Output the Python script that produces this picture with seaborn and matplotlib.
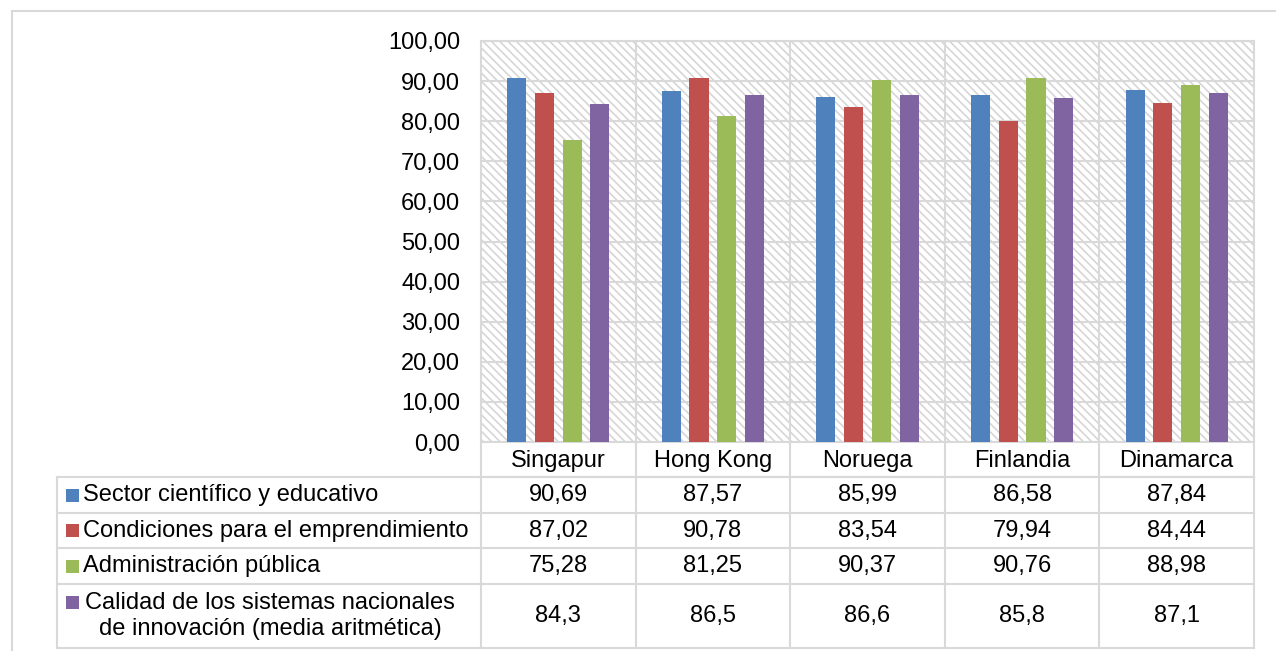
import matplotlib
matplotlib.use("Agg")
import matplotlib.pyplot as plt
import matplotlib.transforms as mtransforms
from matplotlib.lines import Line2D
from matplotlib.patches import Rectangle
import pandas as pd
import seaborn as sns

# ---- data -------------------------------------------------------------
paises = ["Singapur", "Hong Kong", "Noruega", "Finlandia", "Dinamarca"]
series = [
    "Sector científico y educativo",
    "Condiciones para el emprendimiento",
    "Administración pública",
    "Calidad de los sistemas nacionales\nde innovación (media aritmética)",
]
sector_cientifico = [90.69, 87.57, 85.99, 86.58, 87.84]
emprendimiento = [87.02, 90.78, 83.54, 79.94, 84.44]
administracion = [75.28, 81.25, 90.37, 90.76, 88.98]
calidad_media = [84.3, 86.5, 86.6, 85.8, 87.1]
decimales = [2, 2, 2, 1]
colores = ["#4F81BD", "#C0504D", "#9BBB59", "#8064A2"]
y_ticks = list(range(0, 101, 10))

valores = [sector_cientifico, emprendimiento, administracion, calidad_media]
df = pd.DataFrame(
    [(p, s, v[i]) for s, v in zip(series, valores) for i, p in enumerate(paises)],
    columns=["pais", "serie", "valor"],
)

# ---- style ------------------------------------------------------------
sns.set_style("white")
plt.rcParams["font.family"] = ["Liberation Sans", "DejaVu Sans"]
plt.rcParams["text.color"] = "black"
plt.rcParams["hatch.color"] = "#D6D6D6"
plt.rcParams["hatch.linewidth"] = 1.2
GRIS = "#D9D9D9"
FS = 17

W, H = 1276, 651
fig = plt.figure(figsize=(W / 100, H / 100), dpi=100)


def fx(x):
    return x / W


def fy(y):
    return 1 - y / H


ax = fig.add_axes([fx(481), fy(442), (1254 - 481) / W, (442 - 41) / H])

# hatched plot area
ax.patch.set_facecolor("white")
ax.patch.set_hatch("\\\\\\\\")
ax.patch.set_edgecolor("#D6D6D6")
ax.patch.set_linewidth(0)

sns.barplot(
    data=df, x="pais", y="valor", hue="serie", order=paises, hue_order=series,
    palette=colores, saturation=1, width=0.717, gap=0.31, errorbar=None,
    linewidth=0, legend=False, ax=ax, zorder=3,
)

ax.set_xlim(-0.5, len(paises) - 0.5)
ax.set_ylim(0, 100)
ax.set_yticks(y_ticks)
ax.set_yticklabels([f"{t:.2f}".replace(".", ",") for t in y_ticks], fontsize=FS)
ax.tick_params(axis="y", length=0, pad=15, colors="black")
ax.set_xticks([])
ax.set_xlabel("")
ax.set_ylabel("")
ax.set_axisbelow(True)
ax.yaxis.grid(True, color=GRIS, linewidth=1.5, zorder=1)
for k in range(1, len(paises)):
    ax.axvline(k - 0.5, color=GRIS, linewidth=1.5, zorder=1)
for sp in ax.spines.values():
    sp.set_color(GRIS)
    sp.set_linewidth(1.5)

# ---- data table under the axes ---------------------------------------
fig.canvas.draw()
mix = mtransforms.blended_transform_factory(ax.transData, fig.transFigure)
bordes_x = [ax.transData.transform((k - 0.5, 0))[0] for k in range(len(paises) + 1)]

y_header = (442, 477.3)
filas = [(477.3, 512.7), (512.7, 548.3), (548.3, 584), (584, 648.3)]
x_izq = 57.3

def linea(x0, y0, x1, y1):
    fig.add_artist(Line2D([fx(x0), fx(x1)], [fy(y0), fy(y1)], color=GRIS,
                          linewidth=1.5, solid_capstyle="projecting"))

# outer chart frame
linea(12, 11, W + 5, 11)
linea(12, 11, 12, H + 5)

# horizontal rules
linea(bordes_x[0], y_header[1], bordes_x[-1], y_header[1])
for y0, y1 in filas:
    linea(x_izq, y0, bordes_x[-1], y0)
linea(x_izq, filas[-1][1], bordes_x[-1], filas[-1][1])
# vertical rules
linea(x_izq, filas[0][0], x_izq, filas[-1][1])
for bx in bordes_x:
    linea(bx, 442, bx, filas[-1][1])

# header with country names
for i, p in enumerate(paises):
    ax.text(i, fy(sum(y_header) / 2 + 1), p, transform=mix, ha="center",
            va="center", fontsize=FS)

# rows: legend key, series name, values
for r, (nombre, vals, dec, col) in enumerate(zip(series, valores, decimales, colores)):
    y0, y1 = filas[r]
    yc = (y0 + y1) / 2
    if "\n" in nombre:
        y_key = y0 + 18
        fig.text(fx(270), fy(yc), nombre, ha="center", va="center",
                 multialignment="center", fontsize=FS, linespacing=1.22)
    else:
        y_key = yc
        fig.text(fx(83), fy(yc), nombre, ha="left", va="center", fontsize=FS)
    fig.add_artist(Rectangle((fx(66), fy(y_key + 6.5)), 13 / W, 13 / H,
                             transform=fig.transFigure, facecolor=col,
                             edgecolor="none"))
    for i, v in enumerate(vals):
        ax.text(i, fy(yc), f"{v:.{dec}f}".replace(".", ","), transform=mix,
                ha="center", va="center", fontsize=FS)

fig.savefig("out.png", dpi=100)
